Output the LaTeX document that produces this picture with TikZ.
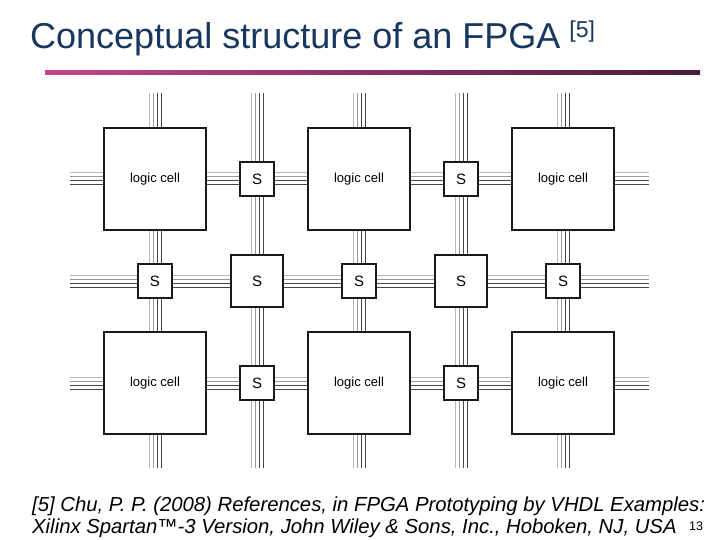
\documentclass[tikz,border=0pt]{standalone}
\usepackage{fontspec}
\setmainfont{Liberation Sans}
\definecolor{titleblue}{RGB}{23,55,94}
\definecolor{barpink}{RGB}{196,70,140}
\definecolor{barpurple}{RGB}{74,28,58}
\tikzset{
  chlight/.style={draw=black!28, line width=1pt},
  chmid/.style={draw=black!40, line width=1pt},
  chdark/.style={draw=black!72, line width=1pt},
  logiccell/.style={draw=black!90, line width=1.6pt, fill=white, minimum size=102pt, inner sep=0pt, font=\fontsize{13}{14}\selectfont},
  swsmall/.style={draw=black!90, line width=1.4pt, fill=white, minimum size=34pt, inner sep=0pt, font=\fontsize{15}{16}\selectfont},
  swbig/.style={draw=black!90, line width=2pt, fill=white, minimum size=52pt, inner sep=0pt, font=\fontsize{15}{16}\selectfont},
}
\begin{document}
\begin{tikzpicture}[x=1pt,y=-1pt]
\useasboundingbox (0,0) rectangle (720,540);
\fill[white] (0,0) rectangle (720,540);
% title
\node[anchor=base west, inner sep=0pt, text=titleblue, font=\fontsize{36}{40}\selectfont] (title) at (30,49)
  {Conceptual structure of an FPGA\hspace{9pt}{\fontsize{23}{24}\selectfont\raisebox{11pt}{[5]}}};
\shade[left color=barpink, right color=barpurple] (45,71) rectangle (700,74.5);
% channel end points
\foreach \cx [count=\i] in {155,257,359,461,563} {
  \coordinate (vt\i) at (\cx,93);
  \coordinate (vb\i) at (\cx,468);
}
\foreach \cy [count=\i] in {179,281,383} {
  \coordinate (hl\i) at (70,\cy);
  \coordinate (hr\i) at (649,\cy);
}
% vertical channels
\foreach \i in {1,...,5} {
  \draw[chlight] ([xshift=-6pt]vt\i) -- ([xshift=-6pt]vb\i);
  \draw[chmid]   ([xshift=-2pt]vt\i) -- ([xshift=-2pt]vb\i);
  \draw[chdark]  ([xshift=2pt]vt\i) -- ([xshift=2pt]vb\i);
  \draw[chdark]  ([xshift=6pt]vt\i) -- ([xshift=6pt]vb\i);
}
% horizontal channels
\foreach \i in {1,...,3} {
  \draw[chlight] ([yshift=6pt]hl\i) -- ([yshift=6pt]hr\i);
  \draw[chmid]   ([yshift=2pt]hl\i) -- ([yshift=2pt]hr\i);
  \draw[chdark]  ([yshift=-2pt]hl\i) -- ([yshift=-2pt]hr\i);
  \draw[chdark]  ([yshift=-6pt]hl\i) -- ([yshift=-6pt]hr\i);
}
% logic cells
\node[logiccell] (lc11) at (155,179) {logic cell};
\node[logiccell] (lc12) at (359,179) {logic cell};
\node[logiccell] (lc13) at (563,179) {logic cell};
\node[logiccell] (lc31) at (155,383) {logic cell};
\node[logiccell] (lc32) at (359,383) {logic cell};
\node[logiccell] (lc33) at (563,383) {logic cell};
% switch boxes
\node[swsmall] (s12) at (257,179) {S};
\node[swsmall] (s14) at (461,179) {S};
\node[swsmall] (s21) at (155,281) {S};
\node[swbig]   (s22) at (257,281) {S};
\node[swsmall] (s23) at (359,281) {S};
\node[swbig]   (s24) at (461,281) {S};
\node[swsmall] (s25) at (563,281) {S};
\node[swsmall] (s32) at (257,383) {S};
\node[swsmall] (s34) at (461,383) {S};
% reference
\node[anchor=base west, inner sep=0pt, font=\fontsize{20.3}{22}\selectfont\itshape] (ref1) at (32,511)
  {[5] Chu, P. P. (2008) References, in FPGA Prototyping by VHDL Examples:};
\node[anchor=base west, inner sep=0pt, font=\fontsize{20.3}{22}\selectfont\itshape] (ref2) at (32,533)
  {Xilinx Spartan™-3 Version, John Wiley \& Sons, Inc., Hoboken, NJ, USA};
\node[anchor=base west, inner sep=0pt, font=\fontsize{12.5}{14}\selectfont] (pagenum) at (689,530) {13};
\end{tikzpicture}
\end{document}
